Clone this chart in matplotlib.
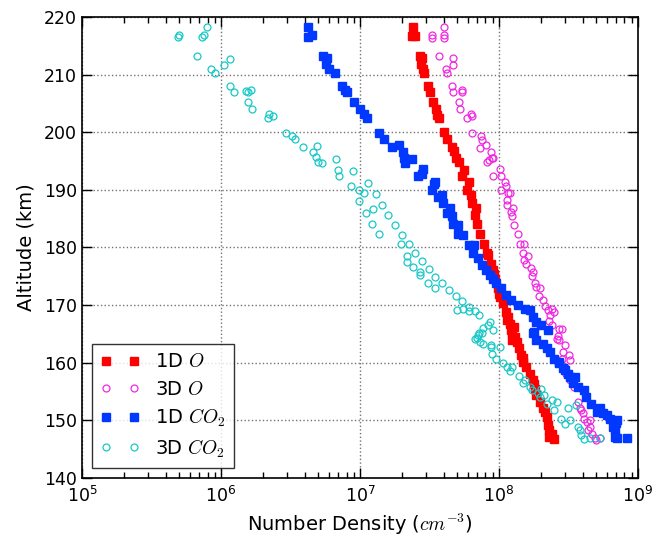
import numpy as np
import matplotlib
matplotlib.use("Agg")
import matplotlib.pyplot as plt
from matplotlib.ticker import LogLocator, NullFormatter

plt.rcParams['mathtext.fontset'] = 'cm'
plt.rcParams['font.family'] = 'DejaVu Sans'

# 1D model, atomic oxygen
alt_1d_o = [218.3, 216.7, 216.7, 213.3, 212.8, 211.8, 210.9, 210.2, 208.0, 207.0,
            205.2, 204.0, 203.0, 202.5, 200.0, 198.9, 197.5, 196.7, 195.5, 194.8,
            193.4, 192.4, 191.3, 190.0, 189.1, 187.7, 186.8, 185.7, 184.0, 182.3,
            180.6, 179.1, 178.7, 177.2, 176.1, 175.4, 174.6, 172.9, 171.9, 171.4,
            170.3, 168.8, 168.0, 167.4, 166.8, 166.2, 165.7, 165.1, 164.4, 163.9,
            163.6, 162.5, 161.3, 160.9, 160.2, 159.3, 158.1, 157.0, 156.3, 155.5,
            154.4, 153.2, 152.1, 151.4, 150.6, 149.2, 148.4, 147.7, 147.1, 146.7]
den_1d_o = [2.4e7, 2.5e7, 2.35e7, 2.7e7, 2.78e7, 2.75e7, 2.85e7, 2.9e7, 3.07e7, 3.2e7,
            3.35e7, 3.5e7, 3.6e7, 3.7e7, 4.0e7, 4.2e7, 4.57e7, 4.75e7, 4.9e7, 5.2e7,
            5.6e7, 5.4e7, 6.1e7, 5.9e7, 6.3e7, 6.4e7, 6.8e7, 6.7e7, 7.0e7, 7.3e7,
            7.8e7, 8.15e7, 8.4e7, 8.7e7, 9.1e7, 9.2e7, 9.4e7, 9.8e7, 1.0e8, 1.02e8,
            1.07e8, 1.12e8, 1.17e8, 1.15e8, 1.2e8, 1.29e8, 1.23e8, 1.25e8, 1.3e8, 1.25e8,
            1.34e8, 1.4e8, 1.45e8, 1.5e8, 1.48e8, 1.56e8, 1.67e8, 1.76e8, 1.8e8, 1.82e8,
            1.86e8, 1.97e8, 2.08e8, 2.15e8, 2.2e8, 2.26e8, 2.3e8, 2.39e8, 2.3e8, 2.5e8]

# 3D model, atomic oxygen
alt_3d_o = [218.2, 216.9, 216.4, 216.8, 216.4, 213.3, 212.8, 211.7, 211.0, 210.2,
            208.0, 206.9, 207.4, 207.0, 205.2, 204.0, 203.2, 202.9, 202.4, 199.8,
            199.4, 198.6, 197.3, 197.7, 196.6, 195.5, 195.2, 194.8, 195.5, 193.6,
            192.4, 192.4, 191.3, 190.7, 190.0, 189.4, 189.4, 188.2, 187.4, 186.8,
            186.1, 185.5, 183.9, 182.3, 180.6, 180.6, 179.1, 178.5, 177.8, 177.2,
            176.4, 175.8, 175.1, 173.9, 173.2, 173.0, 171.6, 170.9, 169.9, 169.1,
            169.3, 168.3, 168.8, 167.3, 166.6, 165.8, 165.8, 164.7, 164.2, 164.0,
            163.1, 161.9, 161.3, 160.4, 160.6, 159.3, 158.1, 157.0, 155.8, 153.2,
            152.1, 151.8, 151.2, 150.3, 150.0, 149.7, 148.9, 148.3, 147.7, 146.9,
            146.6, 146.9]
den_3d_o = [4.05e7, 3.3e7, 3.3e7, 4.05e7, 4.05e7, 3.73e7, 4.69e7, 4.69e7, 4.15e7, 4.2e7,
            4.6e7, 4.69e7, 5.4e7, 5.45e7, 5.2e7, 5.25e7, 6.3e7, 6.35e7, 5.85e7, 6.4e7,
            7.4e7, 7.5e7, 7.3e7, 8.1e7, 8.7e7, 8.9e7, 8.5e7, 8.15e7, 9.1e7, 1.02e8,
            9.0e7, 1.03e8, 1.1e8, 1.13e8, 1.03e8, 1.16e8, 1.21e8, 1.15e8, 1.15e8, 1.27e8,
            1.22e8, 1.25e8, 1.28e8, 1.38e8, 1.42e8, 1.52e8, 1.5e8, 1.63e8, 1.52e8, 1.56e8,
            1.7e8, 1.76e8, 1.72e8, 1.82e8, 1.86e8, 1.97e8, 1.93e8, 2.07e8, 2.13e8, 2.26e8,
            2.4e8, 2.33e8, 2.5e8, 2.31e8, 2.4e8, 2.72e8, 2.85e8, 2.65e8, 2.6e8, 2.72e8,
            2.98e8, 2.9e8, 3.18e8, 3.25e8, 2.85e8, 2.98e8, 3.05e8, 3.25e8, 3.45e8, 3.7e8,
            3.8e8, 3.9e8, 4.0e8, 4.1e8, 4.5e8, 4.3e8, 4.5e8, 4.4e8, 4.7e8, 4.9e8,
            5.0e8, 5.3e8]

# 1D model, carbon dioxide
alt_1d_co2 = [218.2, 216.6, 216.8, 213.3, 212.8, 211.8, 211.0, 210.2, 208.1, 207.3,
              206.9, 205.2, 204.0, 203.1, 202.4, 199.8, 198.8, 197.5, 197.7, 196.6,
              195.5, 194.6, 195.4, 193.6, 192.4, 192.7, 191.1, 190.0, 188.8, 191.4,
              189.1, 187.7, 186.8, 185.9, 185.5, 184.0, 183.9, 182.3, 182.2, 180.5,
              180.5, 179.1, 178.2, 176.9, 176.1, 175.2, 174.6, 173.8, 172.9, 171.7,
              170.9, 170.0, 169.4, 169.1, 168.0, 167.1, 166.5, 165.7, 165.1, 165.4,
              163.9, 163.3, 162.5, 161.9, 160.7, 160.2, 159.9, 159.0, 158.7, 158.1,
              157.6, 157.6, 156.4, 155.8, 155.2, 154.1, 152.9, 152.1, 151.5, 151.2,
              151.0, 150.3, 150.0, 149.5, 148.9, 148.3, 147.1, 146.9, 146.9]
den_1d_co2 = [4.25e6, 4.25e6, 4.5e6, 5.45e6, 5.75e6, 5.7e6, 6.0e6, 6.6e6, 7.4e6, 7.8e6,
              8.1e6, 9.05e6, 1.0e7, 1.07e7, 1.12e7, 1.37e7, 1.49e7, 1.69e7, 1.92e7, 2.03e7,
              2.07e7, 2.1e7, 2.35e7, 2.85e7, 2.6e7, 2.8e7, 3.4e7, 3.3e7, 3.66e7, 3.46e7,
              3.87e7, 3.93e7, 4.44e7, 4.2e7, 4.6e7, 4.65e7, 5.1e7, 5.1e7, 5.5e7, 6.1e7,
              6.6e7, 6.5e7, 7.1e7, 7.5e7, 8.1e7, 8.6e7, 9.0e7, 9.6e7, 1.04e8, 1.13e8,
              1.23e8, 1.38e8, 1.53e8, 1.66e8, 1.76e8, 1.86e8, 2.02e8, 2.26e8, 1.76e8, 1.8e8,
              1.86e8, 2.07e8, 2.2e8, 2.33e8, 2.5e8, 2.72e8, 2.72e8, 2.9e8, 3.0e8, 3.15e8,
              3.25e8, 3.55e8, 3.4e8, 3.7e8, 4.1e8, 4.2e8, 4.6e8, 5.3e8, 5.1e8, 5.6e8,
              6.0e8, 6.3e8, 7.05e8, 6.9e8, 6.65e8, 6.8e8, 6.8e8, 7.05e8, 8.3e8]

# 3D model, carbon dioxide
alt_3d_co2 = [218.2, 216.9, 216.5, 216.9, 216.5, 213.3, 210.9, 210.2, 211.7, 212.7,
              208.0, 207.0, 207.2, 207.0, 207.4, 205.3, 204.0, 202.4, 203.2, 202.8,
              199.8, 199.4, 198.8, 197.4, 196.6, 197.6, 195.7, 194.9, 194.7, 195.3,
              193.4, 192.4, 193.2, 190.7, 190.0, 189.4, 191.2, 189.2, 188.1, 186.7,
              187.4, 185.9, 185.6, 184.0, 183.9, 182.3, 182.2, 180.6, 180.6, 179.1,
              178.5, 177.5, 176.6, 177.6, 175.8, 175.2, 176.2, 174.9, 173.9, 173.8,
              173.0, 172.6, 171.6, 170.7, 169.7, 169.1, 169.4, 169.0, 169.0, 168.3,
              164.3, 165.1, 167.1, 166.5, 166.0, 165.2, 164.8, 164.2, 165.7, 163.1,
              162.8, 161.6, 160.6, 159.9, 159.2, 159.3, 157.7, 156.4, 157.0, 155.8,
              155.2, 154.1, 154.4, 153.5, 153.2, 152.9, 151.8, 150.3, 152.1, 152.6,
              150.0, 149.4, 148.9, 148.3, 147.4, 146.7, 146.9, 146.9, 163.6, 163.3,
              162.8, 158.6, 154.8, 155.4]
den_3d_co2 = [7.9e5, 7.6e5, 7.3e5, 5.0e5, 4.9e5, 6.7e5, 8.5e5, 9.0e5, 1.06e6, 1.16e6,
              1.17e6, 1.24e6, 1.51e6, 1.57e6, 1.65e6, 1.57e6, 1.68e6, 2.17e6, 2.22e6, 2.38e6,
              2.92e6, 3.26e6, 3.4e6, 3.91e6, 4.6e6, 4.9e6, 4.8e6, 5.0e6, 5.3e6, 6.7e6,
              6.95e6, 7.1e6, 8.95e6, 8.6e6, 9.8e6, 1.07e7, 1.15e7, 1.3e7, 9.8e6, 1.25e7,
              1.43e7, 1.1e7, 1.6e7, 1.23e7, 1.8e7, 1.37e7, 2.0e7, 1.96e7, 2.25e7, 2.5e7,
              2.17e7, 2.17e7, 2.4e7, 2.8e7, 2.7e7, 2.72e7, 3.14e7, 3.46e7, 3.07e7, 3.9e7,
              3.46e7, 4.35e7, 4.9e7, 5.4e7, 6.05e7, 5.0e7, 5.5e7, 6.1e7, 6.7e7, 7.2e7,
              6.9e7, 7.2e7, 8.6e7, 8.4e7, 7.7e7, 7.5e7, 7.1e7, 6.7e7, 9.1e7, 8.7e7,
              1.01e8, 8.9e7, 9.5e7, 1.07e8, 1.15e8, 1.25e8, 1.4e8, 1.48e8, 1.55e8, 1.66e8,
              1.72e8, 1.97e8, 2.1e8, 2.39e8, 2.6e8, 2.2e8, 2.5e8, 2.8e8, 3.15e8, 3.6e8,
              3.25e8, 3.0e8, 3.7e8, 3.8e8, 3.9e8, 4.1e8, 4.5e8, 5.3e8, 7.3e7, 7.7e7,
              8.7e7, 1.2e8, 1.9e8, 2.0e8]

fig = plt.figure(figsize=(6.57, 5.37), dpi=100)
ax = fig.add_axes([0.1248, 0.1099, 0.8462, 0.8585])

ax.plot(den_1d_o, alt_1d_o, 's', color='#ff0000', mec='#ff0000', ms=5.5, label='1D $O$')
ax.plot(den_3d_o, alt_3d_o, 'o', mfc='none', mec='#f028e0', mew=0.9, ms=5, label='3D $O$')
ax.plot(den_1d_co2, alt_1d_co2, 's', color='#0038ff', mec='#0038ff', ms=5.5, label='1D $CO_2$')
ax.plot(den_3d_co2, alt_3d_co2, 'o', mfc='none', mec='#18c8c8', mew=0.9, ms=5, label='3D $CO_2$')

ax.set_xscale('log')
ax.set_xlim(1e5, 1e9)
ax.set_ylim(140, 220)
ax.set_yticks(np.arange(140, 221, 10))
ax.xaxis.set_minor_locator(LogLocator(base=10, subs=np.arange(2, 10), numticks=20))
ax.xaxis.set_minor_formatter(NullFormatter())

ax.tick_params(which='both', direction='in', top=True, right=True, labelsize=12.5)
ax.tick_params(which='major', length=7, width=1)
ax.tick_params(which='minor', length=4, width=1)
ax.tick_params(axis='x', pad=6)
for s in ax.spines.values():
    s.set_linewidth(1.2)

ax.grid(True, which='major', color='0.45', linestyle=':', linewidth=1)

ax.set_xlabel('Number Density ($cm^{-3}$)', fontsize=14)
ax.set_ylabel('Altitude (km)', fontsize=14, labelpad=6)

leg = ax.legend(loc='lower left', numpoints=2, fontsize=14, fancybox=False,
                handlelength=2.0, borderpad=0.45, labelspacing=0.42,
                borderaxespad=0.5)
leg.get_frame().set_edgecolor('black')
leg.get_frame().set_linewidth(1)

fig.savefig('out.png', dpi=100)
